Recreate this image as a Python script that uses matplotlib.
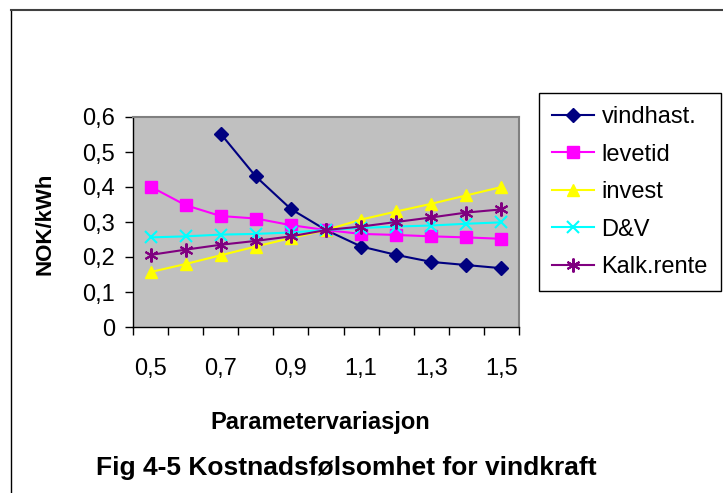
import matplotlib
matplotlib.use("Agg")
from matplotlib import pyplot as plt
from matplotlib.lines import Line2D

plt.rcParams['font.family'] = ['Liberation Sans', 'DejaVu Sans']

# parameter variation 0.5 .. 1.5
params = ['0,5', '0,6', '0,7', '0,8', '0,9', '1,0', '1,1', '1,2', '1,3', '1,4', '1,5']
vindhast = [None, None, 0.552, 0.430, 0.337, 0.277, 0.230, 0.206, 0.186, 0.177, 0.168]
levetid = [0.401, 0.348, 0.317, 0.310, 0.291, 0.277, 0.266, 0.263, 0.259, 0.256, 0.252]
invest = [0.157, 0.180, 0.205, 0.230, 0.254, 0.277, 0.307, 0.330, 0.352, 0.376, 0.400]
dv = [0.256, 0.259, 0.264, 0.266, 0.270, 0.277, 0.283, 0.287, 0.290, 0.295, 0.299]
kalkrente = [0.206, 0.221, 0.235, 0.246, 0.259, 0.277, 0.287, 0.300, 0.313, 0.327, 0.336]

W, H = 723, 493
fig = plt.figure(figsize=(W/100, H/100), dpi=100)
ax = fig.add_axes([133/W, 1-327/H, 386/W, 210/H])
ax.set_facecolor('#c0c0c0')

x = list(range(len(params)))
xv = [i for i, v in zip(x, vindhast) if v is not None]
yv = [v for v in vindhast if v is not None]

ax.plot(xv, yv, color='#000080', marker='D', ms=7, lw=1.5, label='vindhast.')
ax.plot(x, levetid, color='#ff00ff', marker='s', ms=8, lw=1.5, label='levetid')
ax.plot(x, invest, color='#ffff00', marker='^', ms=9, lw=1.5, label='invest')
ax.plot(x, dv, color='#00ffff', marker='x', ms=9, mew=1.5, lw=1.5, label='D&V')
ax.plot(x, kalkrente, color='#800080', marker=(6, 2, 0), ms=10, mew=1.5, lw=1.5, label='Kalk.rente')

ax.set_xlim(-0.5, 10.5)
ax.set_ylim(0, 0.6)
ax.set_yticks([0, 0.1, 0.2, 0.3, 0.4, 0.5, 0.6])
ax.set_yticklabels(['0', '0,1', '0,2', '0,3', '0,4', '0,5', '0,6'], fontsize=17)

# tick marks between categories, labels on every other category
ax.set_xticks([i - 0.5 for i in range(12)])
ax.set_xticklabels([])
ax.set_xticks(x[::2], minor=True)
ax.set_xticklabels(params[::2], minor=True, fontsize=17)
ax.tick_params(axis='x', which='minor', length=0, pad=22)
ax.tick_params(axis='both', which='major', length=6, width=1, direction='out', color='black')
ax.tick_params(axis='y', pad=7)

for s in ['top', 'right']:
    ax.spines[s].set_color('#808080')
    ax.spines[s].set_linewidth(1.5)
for s in ['left', 'bottom']:
    ax.spines[s].set_color('black')
    ax.spines[s].set_linewidth(1)

fig.text(45/W, 1-224/H, 'NOK/kWh', fontsize=16, fontweight='bold',
         rotation=90, ha='center', va='center')
fig.text(320/W, 1-422/H, 'Parametervariasjon', fontsize=17, fontweight='bold',
         ha='center', va='center')
fig.text(346/W, 1-468/H, 'Fig 4-5 Kostnadsfølsomhet for vindkraft',
         fontsize=19, fontweight='bold', ha='center', va='center')

leg = fig.legend(loc='upper left', bbox_to_anchor=(539/W, 1-93/H), fontsize=17,
                 frameon=True, fancybox=False, edgecolor='black', framealpha=1,
                 handlelength=1.8, labelspacing=0.66, borderpad=0.55,
                 handletextpad=0.3, borderaxespad=0)
leg.get_frame().set_linewidth(1)

# outer chart frame (top and left edges visible)
fig.add_artist(Line2D([11/W, 11/W], [0, 1-10/H], color='black', lw=1, transform=fig.transFigure))
fig.add_artist(Line2D([11/W, 1], [1-10/H, 1-10/H], color='#404040', lw=1.5, transform=fig.transFigure))

plt.savefig('out.png', dpi=100)
